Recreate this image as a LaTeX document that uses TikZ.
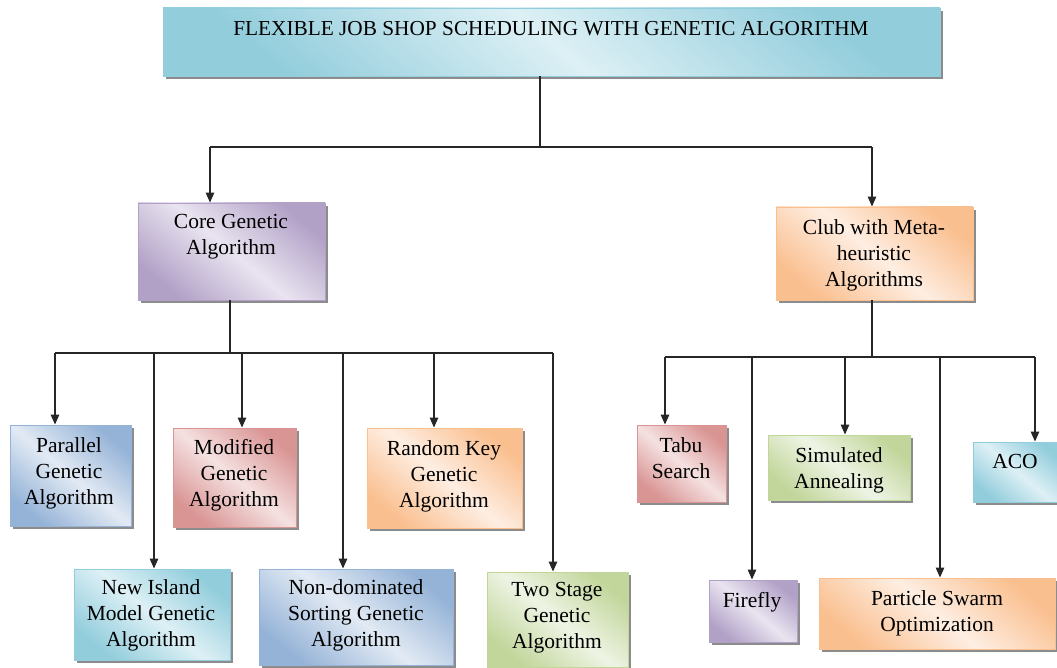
\documentclass[tikz,border=0pt]{standalone}
\usepackage{fontspec}
\setmainfont{Liberation Serif}
\usetikzlibrary{arrows.meta,shadows}
\definecolor{cblue}{HTML}{92CDDC}\definecolor{cbluel}{HTML}{DDF0F5}
\definecolor{cpurp}{HTML}{B2A1C7}\definecolor{cpurpl}{HTML}{E9E4F0}
\definecolor{corng}{HTML}{FABF8F}\definecolor{corngl}{HTML}{FEEEE2}
\definecolor{csteel}{HTML}{95B3D7}\definecolor{csteell}{HTML}{E2EAF4}
\definecolor{cred}{HTML}{D99594}\definecolor{credl}{HTML}{F5E1E1}
\definecolor{cgreen}{HTML}{C2D69B}\definecolor{cgreenl}{HTML}{EEF4E4}
\tikzset{
  box/.style={rectangle, inner sep=0pt, line width=0.9pt,
    drop shadow={shadow xshift=3pt, shadow yshift=-3pt, fill=black!45, opacity=1}},
  shadebox/.style 2 args={box, draw=#1, top color=#1, bottom color=#1, middle color=#2, shading angle=-40},
  bluebox/.style={shadebox={cblue}{cbluel}},
  purpbox/.style={shadebox={cpurp}{cpurpl}},
  orngbox/.style={shadebox={corng}{corngl}},
  steelbox/.style={shadebox={csteel}{csteell}},
  redbox/.style={shadebox={cred}{credl}},
  greenbox/.style={shadebox={cgreen}{cgreenl}},
  txt/.style={anchor=north, inner sep=0pt, align=center, text=black,
    font=\fontsize{21.5}{26}\selectfont},
  conn/.style={line width=1.3pt, draw=black!85},
  arr/.style={conn, -{Triangle[length=10pt,width=8.5pt]}},
}
\newcommand{\bx}[7]{% name, style, cx, cy, w, h
  \node[#2, minimum width=#5pt, minimum height=#6pt] (#1) at (#3,#4) {};}
\begin{document}
\begin{tikzpicture}[x=1pt,y=-1pt]
\useasboundingbox (0,0) rectangle (1057,668);
% boxes
\bx{top}{bluebox}{551.5}{42}{777}{68}{}
\bx{core}{purpbox}{231.5}{251.5}{187}{97}{}
\bx{club}{orngbox}{874.5}{253.5}{197}{93}{}
\bx{par}{steelbox}{70.5}{475.5}{121}{101}{}
\bx{mod}{redbox}{234.5}{477.5}{123}{99}{}
\bx{isl}{bluebox}{152}{614.5}{156}{91}{}
\bx{nds}{steelbox}{356}{617}{194}{96}{}
\bx{rnd}{orngbox}{444.5}{478}{155}{100}{}
\bx{two}{greenbox}{557.5}{619.5}{141}{95}{}
\bx{tabu}{redbox}{681.5}{463.5}{89}{77}{}
\bx{sim}{greenbox}{839}{467.5}{142}{65}{}
\bx{aco}{bluebox}{1017.5}{472}{89}{60}{}
\bx{fire}{purpbox}{753}{611}{88}{62}{}
\bx{pso}{orngbox}{937}{613.5}{236}{71}{}
% texts
\node[txt, font=\fontsize{21.3}{26}\selectfont] (topt) at (551,21.5) {FLEXIBLE JOB SHOP SCHEDULING WITH GENETIC ALGORITHM};
\node[txt] (coret) at (231,214.5) {Core Genetic\\Algorithm};
\node[txt] (clubt) at (874,219.5) {Club with Meta-\\heuristic\\Algorithms};
\node[txt] (part) at (69,437.5) {Parallel\\Genetic\\Algorithm};
\node[txt] (modt) at (234,439.5) {Modified\\Genetic\\Algorithm};
\node[txt] (islt) at (151,579.5) {New Island\\Model Genetic\\Algorithm};
\node[txt] (ndst) at (356,579.5) {Non-dominated\\Sorting Genetic\\Algorithm};
\node[txt] (rndt) at (444,440.5) {Random Key\\Genetic\\Algorithm};
\node[txt] (twot) at (557,582.5) {Two Stage\\Genetic\\Algorithm};
\node[txt] (tabut) at (681,437.5) {Tabu\\Search};
\node[txt] (simt) at (839,447.5) {Simulated\\Annealing};
\node[txt] (acot) at (1015,454.5) {ACO};
\node[txt] (firet) at (752,592.5) {Firefly};
\node[txt] (psot) at (937,590.5) {Particle Swarm\\Optimization};
% junction coordinates
\coordinate (j0) at (540,147);
\coordinate (jc) at (210,147);
\coordinate (jm) at (872,147);
\coordinate (k0) at (230,353);
\coordinate (ka) at (55,353);
\coordinate (kb) at (154,353);
\coordinate (kc) at (242,353);
\coordinate (kd) at (343,353);
\coordinate (ke) at (434,353);
\coordinate (kf) at (553,353);
\coordinate (m0) at (872,357);
\coordinate (ma) at (665,357);
\coordinate (mb) at (752,357);
\coordinate (mc) at (845,357);
\coordinate (md) at (940,357);
\coordinate (me) at (1035,357);
% connectors
\draw[conn] (top.south -| j0) -- (j0);
\draw[conn] (jc) -- (jm);
\draw[arr] (jc) -- (jc |- core.north);
\draw[arr] (jm) -- (jm |- club.north);
\draw[conn] (core.south -| k0) -- (k0);
\draw[conn] (ka) -- (kf);
\draw[arr] (ka) -- (ka |- par.north);
\draw[arr] (kb) -- (kb |- isl.north);
\draw[arr] (kc) -- (kc |- mod.north);
\draw[arr] (kd) -- (kd |- nds.north);
\draw[arr] (ke) -- (ke |- rnd.north);
\draw[arr] (kf) -- (kf |- two.north);
\draw[conn] (club.south -| m0) -- (m0);
\draw[conn] (ma) -- (me);
\draw[arr] (ma) -- (ma |- tabu.north);
\draw[arr] (mb) -- (mb |- fire.north);
\draw[arr] (mc) -- (mc |- sim.north);
\draw[arr] (md) -- (md |- pso.north);
\draw[arr] (me) -- (me |- aco.north);
\end{tikzpicture}
\end{document}
